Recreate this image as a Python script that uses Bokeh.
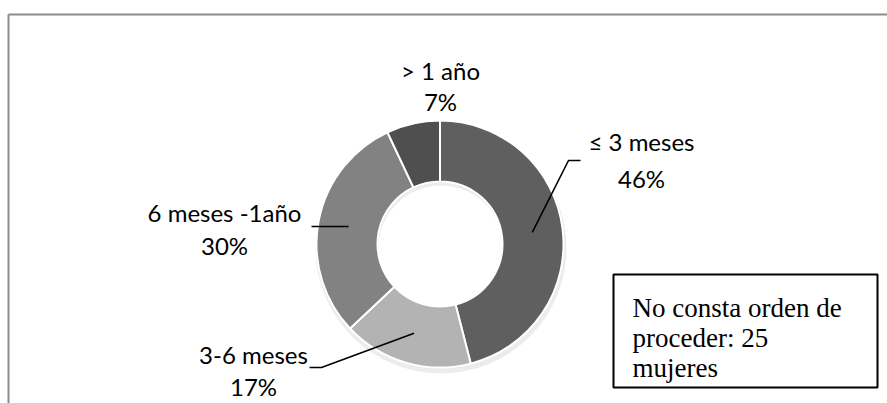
import math
from bokeh.plotting import figure
from bokeh.models import Range1d, ColumnDataSource
from bokeh.core.properties import value
from bokeh.embed import file_html
from bokeh.resources import INLINE

# ---- data ----
categories = ["≤ 3 meses", "3-6 meses", "6 meses -1año", "> 1 año"]
percentages = [46, 17, 30, 7]
pct_labels = ["46%", "17%", "30%", "7%"]
note_lines = ["No consta orden de", "proceder: 25", "mujeres"]

# ---- style / layout ----
colors = ["#5f5f5f", "#b3b3b3", "#828282", "#4f4f4f"]
W, H = 887, 403
cx, cy = 439.5, H - 243.5
r_out, r_in = 123.5, 62.5
r_mid = (r_out + r_in) / 2

label_x = [641, 253, 224, 440]
name_y = [141, 354, 212, 70]
pct_y = [178, 386, 245, 101]
elbows = [[(568, 160), (580, 160)], [(321, 367), (309, 367)], [(311, 226)], None]

p = figure(width=W, height=H, x_range=Range1d(0, W), y_range=Range1d(0, H),
           x_axis_type=None, y_axis_type=None, toolbar_location=None,
           output_backend="svg", min_border=0, outline_line_color=None,
           background_fill_color="white", border_fill_color="white")

# outer chart border (left + top)
p.segment(x0=[8, 8], y0=[H - 14, H - 14], x1=[8, W], y1=[0, H - 14],
          line_color="#8c8c8c", line_width=2)

# soft shadow
p.annulus(x=cx + 1, y=cy - 4, inner_radius=r_in, outer_radius=r_out + 2,
          fill_color="#c8c8c8", fill_alpha=0.35, line_color=None)

total = float(sum(percentages))
starts, ends, mids = [], [], []
cum = 0.0
for v in percentages:
    a0 = cum / total
    cum += v
    a1 = cum / total
    starts.append(math.pi / 2 - 2 * math.pi * a1)
    ends.append(math.pi / 2 - 2 * math.pi * a0)
    mids.append((a0 + a1) / 2)

src = ColumnDataSource(dict(start=starts, end=ends, color=colors, cat=categories))
p.annular_wedge(x=cx, y=cy, inner_radius=r_in, outer_radius=r_out,
                start_angle="start", end_angle="end", direction="anticlock",
                fill_color="color", line_color="white", line_width=2, source=src)

# leader lines
xs, ys = [], []
for m, el in zip(mids, elbows):
    if el is None:
        continue
    ang = 2 * math.pi * m
    sx = cx + r_mid * math.sin(ang)
    sy = cy + r_mid * math.cos(ang)
    xs.append([sx] + [e[0] for e in el])
    ys.append([sy] + [H - e[1] for e in el])
p.multi_line(xs=xs, ys=ys, line_color="black", line_width=1.6)

# data labels
lab_font = value("Lato")
p.text(x=label_x, y=[H - v for v in name_y], text=categories,
       text_font=lab_font, text_font_size="24px", text_color="black",
       text_align="center", text_baseline="middle")
p.text(x=label_x, y=[H - v for v in pct_y], text=pct_labels,
       text_font=lab_font, text_font_size="24px", text_color="black",
       text_align="center", text_baseline="middle")

# note box
p.quad(left=613, right=877, top=H - 274, bottom=H - 387,
       fill_color="white", line_color="black", line_width=2)
p.text(x=[632] * 3, y=[H - 307, H - 337, H - 367], text=note_lines,
       text_font=value("Liberation Serif"), text_font_size="27px",
       text_color="black", text_align="left", text_baseline="alphabetic")

open("out.html", "w").write(file_html(p, INLINE))
